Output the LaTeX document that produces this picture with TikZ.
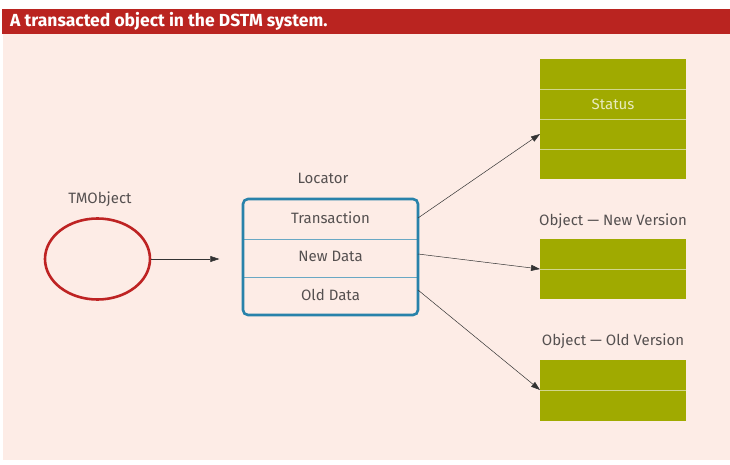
\documentclass[tikz,border=0pt]{standalone}
\usepackage{fontspec}
\setmainfont{Fira Sans}
\usetikzlibrary{arrows.meta,shapes.geometric}
\definecolor{titlered}{RGB}{186,36,32}
\definecolor{bgpink}{RGB}{253,236,230}
\definecolor{olive}{RGB}{160,170,0}
\definecolor{oliveline}{RGB}{210,215,140}
\definecolor{stattext}{RGB}{232,235,190}
\definecolor{locblue}{RGB}{40,130,170}
\definecolor{ellred}{RGB}{190,35,35}
\definecolor{txtgray}{RGB}{85,80,80}
\begin{document}
\begin{tikzpicture}[x=1pt,y=-1pt,
  lbl/.style={text=txtgray,font=\fontsize{15}{17}\selectfont,inner sep=0pt},
  greenbox/.style={fill=olive,draw=none},
  gline/.style={draw=oliveline,line width=0.8pt},
  conn/.style={draw=black!80,line width=0.5pt,-{Triangle[length=9pt,width=6pt]}}]
\useasboundingbox (0,0) rectangle (730,465);
\fill[white] (0,0) rectangle (730,465);
\fill[bgpink] (3,34) rectangle (730,460);
\fill[titlered] (2,9) rectangle (730,34);
\node[anchor=west,text=white,font=\fontsize{17.5}{19}\selectfont\bfseries,inner sep=0pt] (title) at (10,21.5) {A transacted object in the DSTM system.};

% TMObject
\node[lbl] (tmlbl) at (100,199) {TMObject};
\node[draw=ellred,line width=2.6pt,ellipse,minimum width=105pt,minimum height=81pt,inner sep=0pt] (tm) at (97.5,259) {};

% Locator
\node[lbl] (loclbl) at (323,178) {Locator};
\draw[locblue!70!white,line width=0.5pt] (243,239) -- (418,239);
\draw[locblue!70!white,line width=0.5pt] (243,277) -- (418,277);
\node[draw=locblue,line width=2.6pt,rounded corners=5pt,minimum width=175pt,minimum height=116pt,inner sep=0pt] (loc) at (330.5,257) {};
\node[lbl] (tr) at (330.5,218) {Transaction};
\node[lbl] (nd) at (330.5,256) {New Data};
\node[lbl] (od) at (330.5,295) {Old Data};
\coordinate (trE) at (418,218);
\coordinate (ndE) at (418,254);
\coordinate (odE) at (418,290);

% Status box
\node[greenbox,minimum width=146pt,minimum height=120pt,inner sep=0pt] (st) at (613,119) {};
\draw[gline] (540,89) -- (686,89);
\draw[gline] (540,119) -- (686,119);
\draw[gline] (540,149) -- (686,149);
\node[text=stattext,font=\fontsize{15}{17}\selectfont,inner sep=0pt] (stt) at (613,104) {Status};
\coordinate (stIn) at (540,134);

% New version
\node[lbl] (nvlbl) at (613,221) {Object — New Version};
\node[greenbox,minimum width=146pt,minimum height=60pt,inner sep=0pt] (nv) at (613,269) {};
\draw[gline] (540,269) -- (686,269);
\coordinate (nvIn) at (540,269);

% Old version
\node[lbl] (ovlbl) at (613,341) {Object — Old Version};
\node[greenbox,minimum width=146pt,minimum height=61pt,inner sep=0pt] (ov) at (613,390.5) {};
\draw[gline] (540,390) -- (686,390);
\coordinate (ovIn) at (540,390);

% connectors
\draw[conn] (tm.east) -- ++(68,0);
\draw[conn] (trE) -- (stIn);
\draw[conn] (ndE) -- (nvIn);
\draw[conn] (odE) -- (ovIn);
\end{tikzpicture}
\end{document}
